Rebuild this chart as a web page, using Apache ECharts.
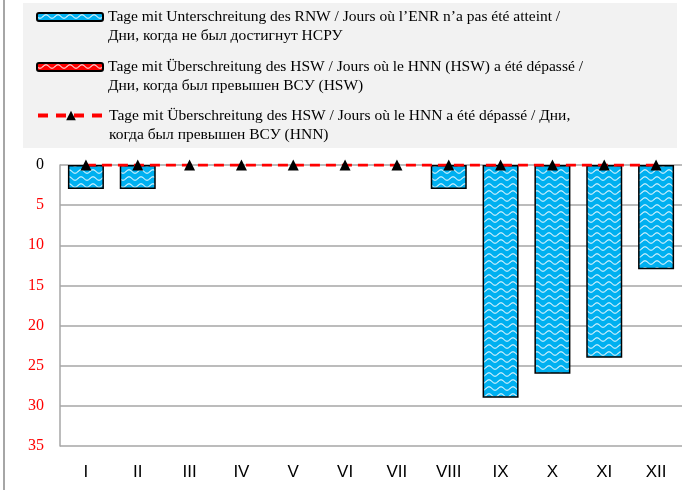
<!DOCTYPE html>
<html>
<head>
<meta charset="utf-8">
<script src="https://cdn.jsdelivr.net/npm/echarts@6/dist/echarts.min.js"></script>
<style>
  html, body { margin: 0; padding: 0; background: #fff; }
  #chart { width: 696px; height: 490px; }
</style>
</head>
<body>
<div id="chart"></div>
<script>
// months (Roman numerals)
const months = ['I', 'II', 'III', 'IV', 'V', 'VI', 'VII', 'VIII', 'IX', 'X', 'XI', 'XII']

// days below RNW / ENR / НСРУ
const daysBelowRnw = [3, 3, 0, 0, 0, 0, 0, 3, 29, 26, 24, 13]
// days above HSW (HNN) – bars
const daysAboveHsw = [0, 0, 0, 0, 0, 0, 0, 0, 0, 0, 0, 0]
// days above HSW (HNN) – line
const daysAboveHnn = [0, 0, 0, 0, 0, 0, 0, 0, 0, 0, 0, 0]

const names = [
  'Tage mit Unterschreitung des RNW / Jours où l’ENR n’a pas été atteint /\nДни, когда не был достигнут НСРУ',
  'Tage mit Überschreitung des HSW / Jours où le HNN (HSW) a été dépassé /\nДни, когда был превышен ВСУ (HSW)',
  'Tage mit Überschreitung des HSW / Jours où le HNN a été dépassé / Дни,\nкогда был превышен ВСУ (HNN)'
]

// wavy fill pattern
function wavePattern(bg) {
  const c = document.createElement('canvas')
  c.width = 12
  c.height = 7
  const ctx = c.getContext('2d')
  ctx.fillStyle = bg
  ctx.fillRect(0, 0, 12, 7)
  ctx.strokeStyle = 'rgba(255,255,255,0.85)'
  ctx.lineWidth = 1.1
  ctx.beginPath()
  for (let x = 0; x <= 12; x += 0.5) {
    const y = 3.5 + 1.7 * Math.sin((x / 12) * Math.PI * 2)
    if (x === 0) ctx.moveTo(x, y)
    else ctx.lineTo(x, y)
  }
  ctx.stroke()
  return { image: c, repeat: 'repeat' }
}

// leading blank line keeps the first text line level with the icon
const legendText = {
  fontFamily: 'Liberation Serif',
  fontSize: 15.5,
  lineHeight: 19,
  color: '#000'
}

const chart = echarts.init(document.getElementById('chart'))

const option = {
  animation: false,
  graphic: [
    { type: 'rect', shape: { x: 3, y: 0, width: 2, height: 490 }, style: { fill: '#a6a6a6' }, silent: true },
    { type: 'rect', shape: { x: 23, y: 3, width: 654, height: 145 }, style: { fill: '#f2f2f2' }, silent: true, z: -10 }
  ],
  legend: [
    {
      orient: 'vertical',
      left: 36,
      top: -11.5,
      padding: 0,
      itemGap: -7,
      itemWidth: 66,
      itemHeight: 8,
      selectedMode: false,
      textStyle: legendText,
      formatter: (n) => '\n' + n,
      data: [
        { name: names[0], itemStyle: { borderColor: '#000', borderWidth: 2 } },
        { name: names[1], itemStyle: { borderColor: '#000', borderWidth: 2 } }
      ]
    },
    {
      orient: 'vertical',
      left: 36,
      top: 87,
      padding: 0,
      itemWidth: 66,
      itemHeight: 12,
      selectedMode: false,
      textStyle: legendText,
      formatter: (n) => '\n' + n,
      lineStyle: { width: 4, type: [10, 8] },
      data: [{ name: names[2], itemStyle: { color: '#000' } }]
    }
  ],
  grid: {
    left: 60,
    right: 14,
    top: 165,
    bottom: 44
  },
  xAxis: {
    type: 'category',
    data: months,
    axisLine: { show: false, onZero: false },
    axisTick: { show: false },
    axisLabel: {
      margin: 18,
      fontFamily: 'Liberation Sans',
      fontSize: 17,
      color: '#000'
    }
  },
  yAxis: {
    type: 'value',
    inverse: true,
    min: 0,
    max: 35,
    interval: 5,
    axisLine: { show: true, lineStyle: { color: '#a6a6a6', width: 1.5 } },
    axisTick: { show: false },
    splitLine: { lineStyle: { color: '#a6a6a6', width: 1.5 } },
    axisLabel: {
      margin: 16,
      fontFamily: 'Liberation Serif',
      fontSize: 16,
      color: (v) => (Number(v) === 0 ? '#000' : '#ff0000')
    }
  },
  series: [
    {
      name: names[0],
      type: 'bar',
      barWidth: 36,
      barGap: '-100%',
      data: daysBelowRnw.map((v) => (v === 0 ? { value: v, itemStyle: { borderWidth: 0 } } : v)),
      itemStyle: { color: wavePattern('#00b0f0'), borderColor: '#000', borderWidth: 1.5 }
    },
    {
      name: names[1],
      type: 'bar',
      barWidth: 36,
      barGap: '-100%',
      data: daysAboveHsw,
      itemStyle: { color: wavePattern('#ff0000'), borderColor: '#000', borderWidth: 0 }
    },
    {
      name: names[2],
      type: 'line',
      data: daysAboveHnn,
      z: 5,
      symbol: 'triangle',
      symbolSize: 11,
      itemStyle: { color: '#000' },
      lineStyle: { color: '#ff0000', width: 3, type: [10, 6] }
    }
  ]
}

chart.setOption(option)
</script>
</body>
</html>
